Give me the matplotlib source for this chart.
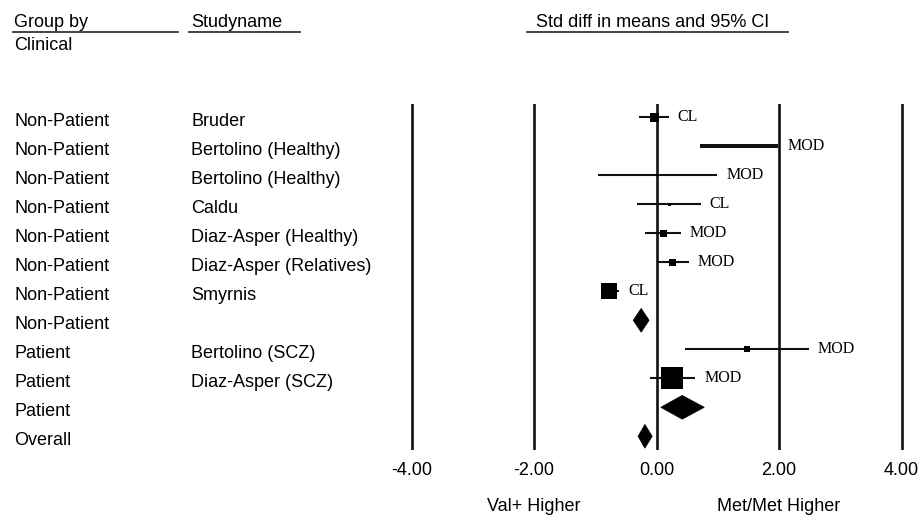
import matplotlib
matplotlib.use("Agg")
import matplotlib.pyplot as plt
from matplotlib.lines import Line2D
from matplotlib.patches import Polygon
from matplotlib.transforms import blended_transform_factory

plt.rcParams['font.family'] = ['Liberation Sans', 'DejaVu Sans']

# ---- study-level data -------------------------------------------------
study_names = ["Bruder", "Bertolino (Healthy)", "Bertolino (Healthy)", "Caldu",
               "Diaz-Asper (Healthy)", "Diaz-Asper (Relatives)", "Smyrnis",
               "Bertolino (SCZ)", "Diaz-Asper (SCZ)"]
study_groups = ["Non-Patient"] * 7 + ["Patient"] * 2
study_smd = [-0.04, 1.35, 0.01, 0.20, 0.11, 0.26, -0.77, 1.48, 0.26]
study_lower = [-0.29, 0.71, -0.96, -0.32, -0.19, 0.00, -0.91, 0.47, -0.11]
study_upper = [0.20, 1.99, 0.99, 0.72, 0.40, 0.53, -0.61, 2.49, 0.63]
study_weight = [9, 0, 2, 3, 7, 7, 16, 6, 22]
study_design = ["CL", "MOD", "MOD", "CL", "MOD", "MOD", "CL", "MOD", "MOD"]

# ---- pooled estimates (subgroups and overall) -------------------------
pooled_labels = ["Non-Patient", "Patient", "Overall"]
pooled_smd = [-0.25, 0.42, -0.19]
pooled_lower = [-0.38, 0.07, -0.30]
pooled_upper = [-0.12, 0.78, -0.07]

# ---- axis ticks and captions ------------------------------------------
tick_values = [-4, -2, 0, 2, 4]
tick_labels = ["-4.00", "-2.00", "0.00", "2.00", "4.00"]
side_captions = ["Val+ Higher", "Met/Met Higher"]
side_positions = [-2, 2]

# row order: studies of each group followed by the group summary
study_rows = [0, 1, 2, 3, 4, 5, 6, 8, 9]
pooled_rows = [7, 10, 11]

W, H = 922, 518
fig = plt.figure(figsize=(W / 100, H / 100), dpi=100)

# forest panel: spans the vertical reference lines
px_left, px_right, px_top, px_bottom = 400, 915, 104, 450
ax = fig.add_axes([px_left / W, 1 - px_bottom / H,
                   (px_right - px_left) / W, (px_bottom - px_top) / H])
unit = 61.25
zero_px = 656.5
ax.set_xlim((px_left - zero_px) / unit, (px_right - zero_px) / unit)
row0_px, row_step = 117.3, 29.0
ax.set_ylim((px_bottom - row0_px) / row_step, (px_top - row0_px) / row_step)
for s in ax.spines.values():
    s.set_visible(False)
ax.set_yticks([])
ax.set_xticks(tick_values, tick_labels)
ax.tick_params(axis='x', length=0, pad=8.6, labelsize=13)

for v in tick_values:
    ax.axvline(v, color='#111111', lw=1.9, zorder=1)

# study confidence intervals, squares and design tags
for i, r in enumerate(study_rows):
    lw = 2.9 if study_weight[i] == 0 else 1.5
    ax.plot([study_lower[i], study_upper[i]], [r, r], color='#111111',
            lw=lw, solid_capstyle='butt', zorder=2)
    if study_weight[i] > 0:
        ax.plot(study_smd[i], r, marker='s', color='black',
                markersize=study_weight[i] * 0.72, markeredgewidth=0, zorder=3)
    ax.annotate(study_design[i], (study_upper[i], r), xytext=(6.5, 0),
                textcoords='offset points', va='center', ha='left',
                fontsize=11.5, family=['Liberation Serif', 'DejaVu Serif'])

# pooled diamonds
half_h = 0.41
for j, r in enumerate(pooled_rows):
    pts = [(pooled_lower[j], r), (pooled_smd[j], r - half_h),
           (pooled_upper[j], r), (pooled_smd[j], r + half_h)]
    ax.add_patch(Polygon(pts, closed=True, facecolor='black',
                         edgecolor='black', lw=0.5, zorder=3))

# captions under the axis
cap_tr = blended_transform_factory(ax.transData, fig.transFigure)
for c, xpos in zip(side_captions, side_positions):
    ax.text(xpos, 1 - 511 / H, c, transform=cap_tr, ha='center',
            va='baseline', fontsize=13)

# left-hand text columns
col_tr = blended_transform_factory(fig.transFigure, ax.transData)
text_dy = 0.29
group_col = study_groups[:7] + ["Non-Patient"] + study_groups[7:] + ["Patient", "Overall"]
name_col = study_names[:7] + [""] + study_names[7:] + ["", ""]
for r, (g, n) in enumerate(zip(group_col, name_col)):
    ax.text(14 / W, r + text_dy, g, transform=col_tr, va='baseline',
            ha='left', fontsize=13, clip_on=False)
    if n:
        ax.text(191 / W, r + text_dy, n, transform=col_tr, va='baseline',
                ha='left', fontsize=13, clip_on=False)

# column headers with rules
header_base = 1 - 26.8 / H
fig.text(14 / W, header_base, "Group by", fontsize=13, va='baseline')
fig.text(191 / W, header_base, "Studyname", fontsize=13, va='baseline')
fig.text(536 / W, header_base, "Std diff in means and 95% CI", fontsize=13,
         va='baseline')
fig.text(14 / W, 1 - 50.5 / H, "Clinical", fontsize=13, va='baseline')
rule_y = 1 - 32.3 / H
for x0, x1 in [(12.7, 177.7), (189, 300), (526.7, 788.3)]:
    fig.add_artist(Line2D([x0 / W, x1 / W], [rule_y, rule_y],
                          transform=fig.transFigure, color='#222222', lw=1.2))

fig.savefig("out.png", dpi=100)
